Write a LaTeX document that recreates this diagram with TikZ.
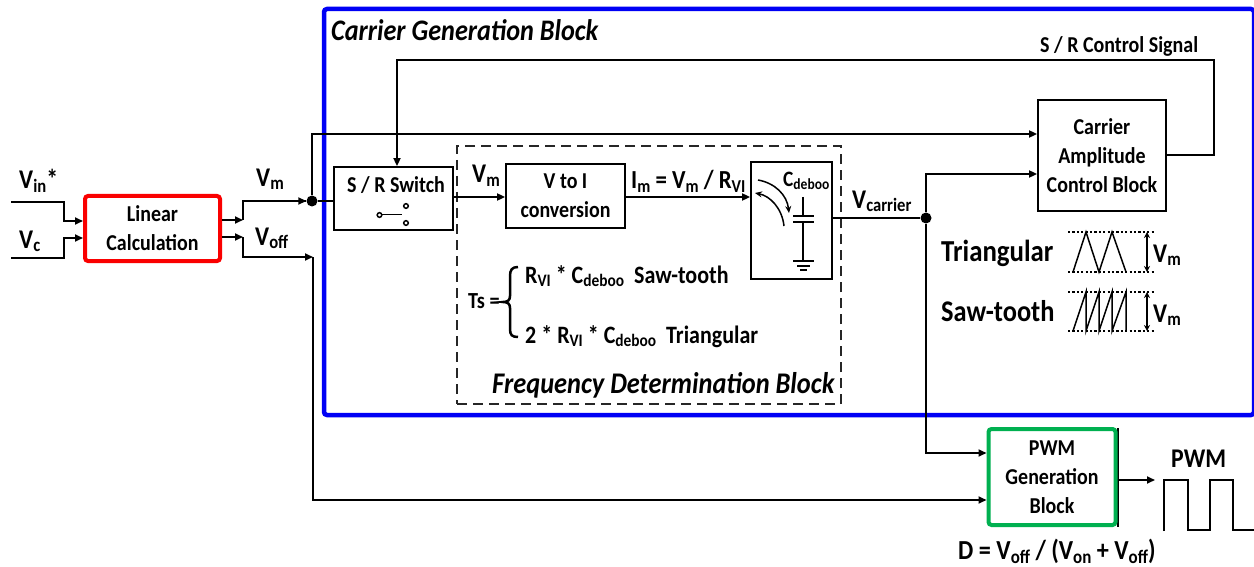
\documentclass[tikz,border=0pt]{standalone}
\usepackage{fontspec}
\setmainfont[FakeStretch=0.88]{Carlito}
\usetikzlibrary{arrows.meta}
\definecolor{myred}{RGB}{250,0,0}
\definecolor{myblue}{RGB}{0,0,245}
\definecolor{mygreen}{RGB}{0,176,80}
\newcommand{\sz}[1]{\fontsize{#1}{#1}\selectfont\bfseries}
\newcommand{\lo}[1]{\raisebox{-0.3ex}{\fontsize{0.7em}{1em}\selectfont #1}}
\tikzset{
 x=1pt,y=-1pt,
 wire/.style={draw=black,line width=1.8pt},
 arr/.style={wire,-{Triangle[length=8pt,width=7pt]}},
 blk/.style={draw=black,line width=1.8pt,fill=white,inner sep=0pt,align=center,font=\fontsize{22.7}{29}\selectfont\bfseries},
 lab/.style={inner sep=0pt,font=\sz{27},anchor=base west},
 dot/.style={circle,fill=black,inner sep=0pt,minimum size=11pt},
 dots/.style={line width=1.4pt,dash pattern=on 2.2pt off 2.2pt},
 thinl/.style={line width=1.5pt},
}
\newcommand{\bx}[6]{\node[#1,minimum width=#4pt,minimum height=#5pt] (#2) at (#3) {#6};}
\begin{document}
\begin{tikzpicture}
\useasboundingbox (0,0) rectangle (1254,567);
\fill[white] (0,0) rectangle (1254,567);
% containers
\node[draw=myblue,line width=4.5pt,rounded corners=3pt,minimum width=930pt,minimum height=406pt,inner sep=0pt] (carrierbox) at (789,212) {};
\node[draw=black!85,line width=1.4pt,dash pattern=on 10pt off 6pt,minimum width=384pt,minimum height=258pt,inner sep=0pt] (freqbox) at (649,275) {};
% blocks
\bx{blk,draw=myred,line width=4pt,rounded corners=3pt}{lin}{152.5,228.5}{135}{65}{Linear\\Calculation}
\bx{blk}{sw}{393.5,198.5}{119}{63}{}
\bx{blk}{vi}{565.5,196}{119}{64}{V to I\\conversion}
\bx{blk}{cap}{791.5,220.5}{81}{117}{}
\bx{blk}{amp}{1102,155.5}{128}{111}{Carrier\\Amplitude\\Control Block}
\draw[black,line width=1.5pt] (1118,428) -- (1118,527);
\bx{blk,draw=mygreen,line width=4pt,rounded corners=3pt}{pwm}{1052,477}{127}{96}{PWM\\Generation\\Block}
% junctions and free ends
\coordinate (invin) at (11,202);
\coordinate (invc) at (11,258);
\node[dot] (jm) at (312,201) {};
\node[dot] (jc) at (926,218) {};
\coordinate (pwmout) at (1155,480);
% inputs
\draw[arr] (invin) -- (64,202) -- (64,221) -- (lin.west |- 0,221);
\draw[arr] (invc) -- (64,258) -- (64,238) -- (lin.west |- 0,238);
% outputs of linear calc
\draw[arr] (lin.east |- 0,220) -- (243,220);
\draw[wire] (243,220) -- (243,201) -- (jm);
\draw[arr] (243,201) -- (jm.west);
\draw[arr] (lin.east |- 0,237) -- (243,237);
\draw[arr] (243,237) -- (243,257) -- (313,257);
\draw[arr] (313,257) -- (313,500) -- (pwm.west |- 0,500);
\draw[wire] (jm) -- (sw.west |- jm);
\draw[arr] (jm) -- (312,134) -- (amp.west |- 0,134);
% s/r control
\draw[arr] (amp.east |- 0,155) -- (1214,155) -- (1214,60) -- (397,60) -- (sw.north -| 397,0);
% main path
\draw[arr] (sw.east |- 0,197) -- (vi.west |- 0,197);
\draw[arr] (vi.east |- 0,197) -- (cap.west |- 0,197);
\draw[wire] (cap.east |- jc) -- (jc);
\draw[arr] (jc) -- (926,174) -- (amp.west |- 0,174);
\draw[arr] (jc) -- (926,453) -- (pwm.west |- 0,453);
\draw[arr] (pwm.east |- pwmout) -- (pwmout);
% switch symbol
\draw[thinl] (379.5,215) circle (2.3pt);
\draw[thinl] (406,206) circle (2.3pt);
\draw[thinl] (406,223) circle (2.3pt);
\draw[line width=1.8pt] (382,214.5) -- (402,214.5);
% capacitor
\draw[line width=1.6pt] (803,197) -- (803,216) (793,216) -- (814,216) (793,222) -- (814,222) (803,222) -- (803,261);
\draw[line width=1.6pt] (793,261) -- (814,261) (797,266) -- (810,266) (800,270) -- (807,270);
\draw[line width=1.5pt,-{Stealth[length=7pt,width=6pt]}] (758,180) .. controls (775,183) and (787,195) .. (789,213);
\draw[line width=1.5pt,-{Stealth[length=7pt,width=6pt]}] (784,226) .. controls (782,208) and (770,196) .. (755,193);
% pwm wave
\draw[wire] (1164,531) -- (1164,480) -- (1188,480) -- (1188,530) -- (1210,530) -- (1210,480) -- (1233,480) -- (1233,530) -- (1254,530);
% triangular
\draw[dots] (1068,232) -- (1154,232) (1068,272) -- (1154,272);
\draw[thinl] (1073,272) -- (1086,232) -- (1099,272) -- (1112,232) -- (1126,272);
\draw[thinl,{Stealth[length=6pt,width=6pt]}-{Stealth[length=6pt,width=6pt]}] (1147,232) -- (1147,272);
% sawtooth
\draw[dots] (1068,292) -- (1154,292) (1068,331) -- (1154,331);
\draw[thinl] (1073,331) -- (1086,292) -- (1086,331) -- (1099,292) -- (1099,331) -- (1112,292) -- (1112,331) -- (1126,292) -- (1126,331);
\draw[thinl,{Stealth[length=6pt,width=6pt]}-{Stealth[length=6pt,width=6pt]}] (1147,292) -- (1147,331);
% labels
\node[lab,font=\sz{29.8}\itshape] (t1) at (331,41) {Carrier Generation Block};
\node[lab,font=\sz{30}\itshape] (t2) at (492,393) {Frequency Determination Block};
\node[lab,font=\sz{22.7}] (t3) at (1040,53) {S / R Control Signal};
\node[lab] (t4) at (19,189) {V\lo{in}*};
\node[lab] (t5) at (19,248) {V\lo{c}};
\node[lab] (t6) at (256,186) {V\lo{m}};
\node[lab] (t7) at (255,245) {V\lo{off}};
\node[lab,font=\sz{22.7}] (t8) at (347,193) {S / R Switch};
\node[lab] (t9) at (472,183) {V\lo{m}};
\node[lab,font=\sz{26}] (t10) at (631,189) {I\lo{m} = V\lo{m} / R\lo{VI}};
\node[lab,font=\sz{22}] (t11) at (783,186) {C\lo{deboo}};
\node[lab] (t12) at (852,208) {V\lo{carrier}};
\node[lab,font=\sz{30.5}] (t13) at (941,261) {Triangular};
\node[lab,font=\sz{30}] (t14) at (941,321) {Saw-tooth};
\node[lab] (t15) at (1153,262) {V\lo{m}};
\node[lab] (t16) at (1153,322) {V\lo{m}};
\node[lab,font=\sz{23}] (t17) at (468,308) {Ts =};
\node[lab,font=\sz{25}] (t19) at (525,283) {R\lo{VI} * C\lo{deboo}\ \ Saw-tooth};
\node[lab,font=\sz{25}] (t20) at (525,343) {2 * R\lo{VI} * C\lo{deboo}\ \ Triangular};
\node[lab] (t21) at (1171,467) {PWM};
\node[lab,font=\sz{27.5}] (t22) at (958,559) {D = V\lo{off} / (V\lo{on} + V\lo{off})};
% brace
\draw[line width=2.5pt] (518,267) .. controls (512,267) and (510,270) .. (510,276) -- (510,296) .. controls (510,300) and (508,302) .. (503,302) .. controls (508,302) and (510,304) .. (510,308) -- (510,329) .. controls (510,335) and (512,337) .. (518,337);
\end{tikzpicture}
\end{document}
